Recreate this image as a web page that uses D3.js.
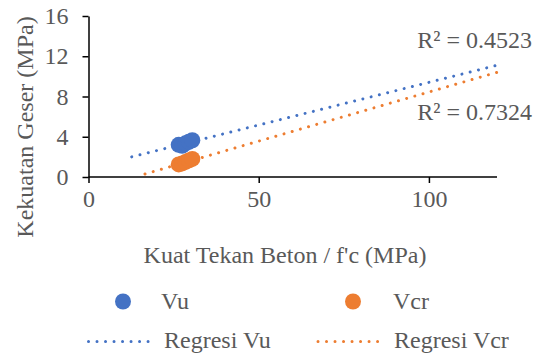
<!DOCTYPE html>
<html><head><meta charset="utf-8">
<script src="https://cdn.jsdelivr.net/npm/d3@7"></script>
<style>body{margin:0;background:#fff}svg{display:block}text{font-family:"Liberation Serif","Times New Roman",serif;fill:#595959;font-size:24px}</style>
</head><body><svg id="c" width="535" height="353"></svg>
<script>
const vuX = [26.5, 27.5, 28.5, 29.5, 30.5];
const vuY = [3.2, 3.1, 3.35, 3.5, 3.65];
const vcrX = [26.5, 27.5, 28.5, 29.5, 30.5];
const vcrY = [1.25, 1.35, 1.5, 1.65, 1.8];
const trendVu = [[12.7, 2.0], [120, 11.1]];
const trendVcr = [[16.6, 0.3], [120, 10.4]];
const r2Labels = ["R² = 0.4523", "R² = 0.7324"];
const xTicks = [0, 50, 100];
const yTicks = [0, 4, 8, 12, 16];
const blue = "#4472C4", orange = "#ED7D31";
const FONT = '"Liberation Serif","Times New Roman",serif';

const svg = d3.select("#c");
const x = d3.scaleLinear().domain([0, 120]).range([88.5, 497]);
const y = d3.scaleLinear().domain([0, 16]).range([177, 16]);

// axes
const xa = svg.append("g").attr("transform", `translate(0,${y(0)})`)
  .call(d3.axisBottom(x).tickValues(xTicks).tickSize(6).tickPadding(7).tickSizeOuter(0));
const ya = svg.append("g").attr("transform", `translate(${x(0)},0)`)
  .call(d3.axisLeft(y).tickValues(yTicks).tickSize(6).tickPadding(14).tickSizeOuter(0));
[xa, ya].forEach(a => {
  a.attr("font-family", FONT).attr("font-size", 24);
  a.selectAll("path,line").attr("stroke", "#000").attr("stroke-width", 1.5);
  a.selectAll("text").attr("fill", "#595959");
});
xa.select(".domain").attr("d", `M${x(0)},0H${x(120)}`);

// trendlines
const line = d3.line().x(d => x(d[0])).y(d => y(d[1]));
function dotted(sel, c) {
  return sel.attr("fill", "none").attr("stroke", c).attr("stroke-width", 3)
    .attr("stroke-linecap", "round").attr("stroke-dasharray", "0.01 8.5");
}
dotted(svg.append("path").attr("d", line(trendVu)), blue);
dotted(svg.append("path").attr("d", line(trendVcr)), orange);

// points
svg.append("g").selectAll("circle").data(vuX.map((v, i) => [v, vuY[i]])).join("circle")
  .attr("cx", d => x(d[0])).attr("cy", d => y(d[1])).attr("r", 8).attr("fill", blue);
svg.append("g").selectAll("circle").data(vcrX.map((v, i) => [v, vcrY[i]])).join("circle")
  .attr("cx", d => x(d[0])).attr("cy", d => y(d[1])).attr("r", 8).attr("fill", orange);

// R2 labels
svg.append("text").attr("x", 532).attr("y", 48).attr("text-anchor", "end").text(r2Labels[0]);
svg.append("text").attr("x", 532).attr("y", 120).attr("text-anchor", "end").text(r2Labels[1]);

// axis titles
svg.append("text").attr("x", 285).attr("y", 263).attr("text-anchor", "middle").text("Kuat Tekan Beton / f'c (MPa)");
svg.append("text").attr("transform", "translate(33,127) rotate(-90)").attr("text-anchor", "middle").text("Kekuatan Geser (MPa)");

// legend
const lg = svg.append("g");
lg.append("circle").attr("cx", 123).attr("cy", 301.5).attr("r", 8).attr("fill", blue);
lg.append("text").attr("x", 161).attr("y", 308.5).text("Vu");
lg.append("circle").attr("cx", 353).attr("cy", 301.5).attr("r", 8).attr("fill", orange);
lg.append("text").attr("x", 393).attr("y", 308.5).text("Vcr");
dotted(lg.append("path").attr("d", "M88.5,341.5H151"), blue);
lg.append("text").attr("x", 164).attr("y", 347.5).text("Regresi Vu");
dotted(lg.append("path").attr("d", "M318,341.5H382"), orange);
lg.append("text").attr("x", 394).attr("y", 347.5).text("Regresi Vcr");
</script></body></html>
